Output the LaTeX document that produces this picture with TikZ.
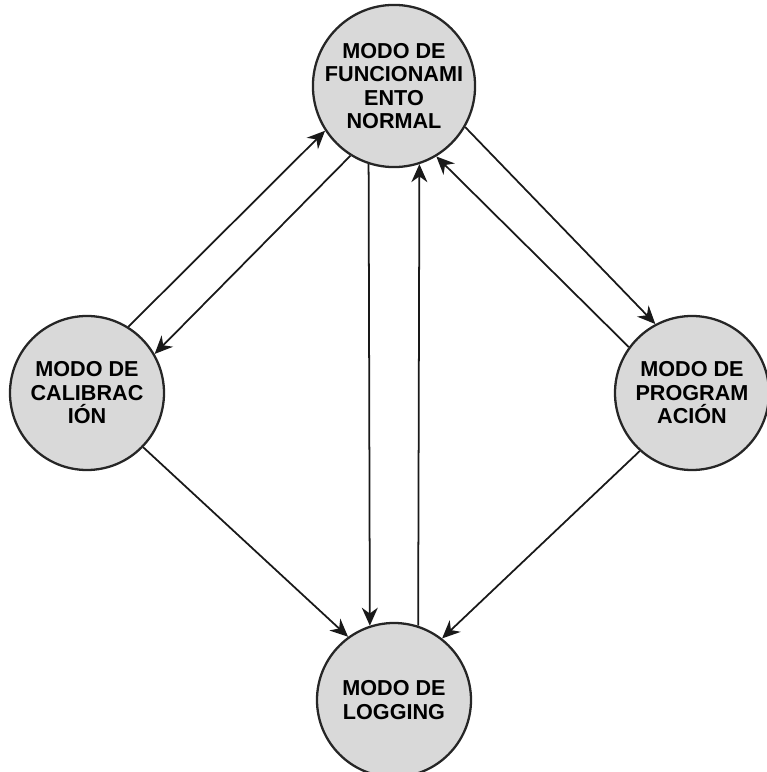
\documentclass[tikz,border=0pt]{standalone}
\usepackage{fontspec}
\setmainfont{Liberation Sans}
\usetikzlibrary{arrows.meta}
\definecolor{modogris}{RGB}{217,217,217}

\begin{document}
\begin{tikzpicture}[
    modo/.style={circle, draw=black!85, line width=1.3pt, fill=modogris,
        minimum size=3.08cm, inner sep=0pt, align=center,
        font=\fontsize{12.3}{13.4}\selectfont\bfseries},
    flecha/.style={-{Stealth[length=3.6mm,width=3.2mm]}, line width=1pt, black!90}]
            % frame
            \useasboundingbox (0,0) rectangle (15.32,15.44);

            % modes
            \node[modo] (normal) at (7.88,13.72) {MODO DE\\FUNCIONAMI\\ENTO\\NORMAL};
            \node[modo] (calib)  at (1.74,7.58)  {MODO DE\\CALIBRAC\\IÓN};
            \node[modo] (prog)   at (13.84,7.58) {MODO DE\\PROGRAM\\ACIÓN};
            \node[modo] (logg)   at (7.88,1.44)  {MODO DE\\LOGGING};

            % transitions with calibration
            \draw[flecha] (calib.58) -- (normal.213);
            \draw[flecha] (normal.238) -- (calib.30);
            \draw[flecha] (calib.316) -- (logg.126);

            % transitions with programming
            \draw[flecha] (normal.330) -- (prog.118);
            \draw[flecha] (prog.144) -- (normal.301);
            \draw[flecha] (prog.228) -- (logg.52);

            % normal <-> logging
            \draw[flecha] (normal.252) -- (logg.108);
            \draw[flecha] (logg.72) -- (normal.288);
\end{tikzpicture}
\end{document}
